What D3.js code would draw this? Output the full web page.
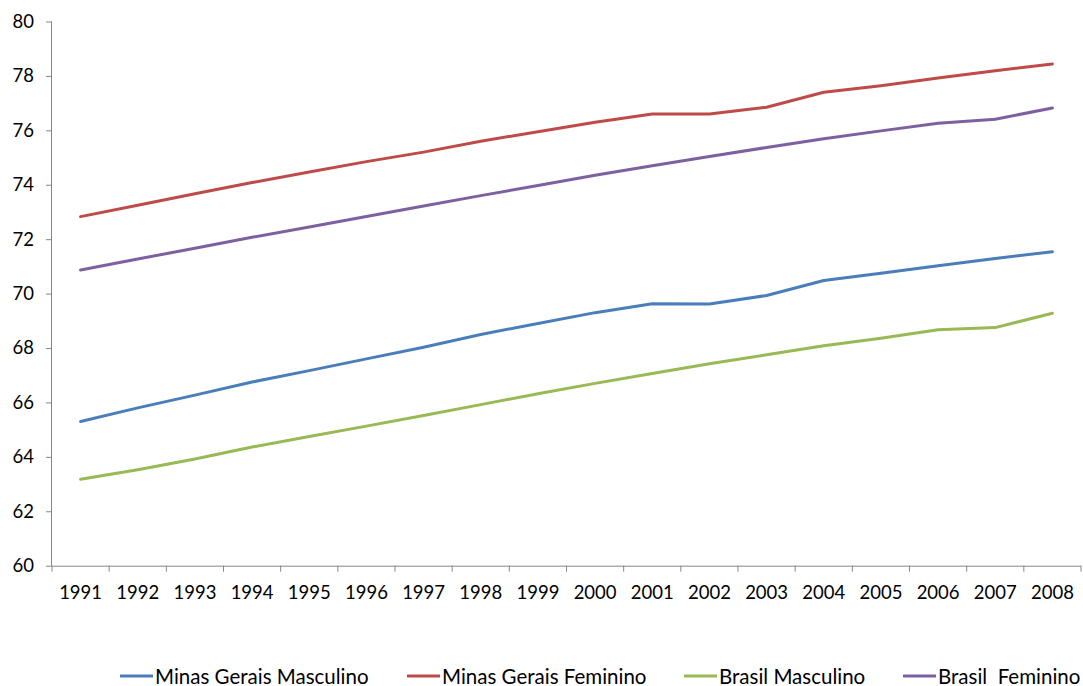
<!DOCTYPE html>
<html><head><meta charset="utf-8">
<script src="https://cdn.jsdelivr.net/npm/d3@7"></script>
<style>body{margin:0;background:#fff}svg{display:block}</style>
</head><body>
<svg id="c" width="1083" height="686"></svg>
<script>
const years = ["1991","1992","1993","1994","1995","1996","1997","1998","1999","2000","2001","2002","2003","2004","2005","2006","2007","2008"];
const seriesNames = ["Minas Gerais Masculino","Minas Gerais Feminino","Brasil Masculino","Brasil  Feminino"];
const mgMasc = [65.3,65.8,66.27,66.75,67.17,67.6,68.03,68.5,68.9,69.3,69.63,69.62,69.93,70.48,70.75,71.02,71.29,71.54];
const mgFem  = [72.83,73.25,73.67,74.08,74.47,74.85,75.2,75.6,75.95,76.3,76.6,76.6,76.85,77.4,77.64,77.92,78.19,78.44];
const brMasc = [63.18,63.53,63.92,64.36,64.75,65.13,65.52,65.92,66.32,66.7,67.06,67.42,67.75,68.08,68.36,68.67,68.75,69.28];
const brFem  = [70.87,71.27,71.67,72.07,72.45,72.83,73.22,73.6,73.97,74.35,74.7,75.04,75.37,75.69,75.98,76.26,76.41,76.82];
const yTicks = [60,62,64,66,68,70,72,74,76,78,80];
const colors = ["#4a7ebb","#be4b48","#98b954","#7d60a0"];
const data = [mgMasc, mgFem, brMasc, brFem];

const svg = d3.select("#c");
const L = 52, R = 1081, T = 21.5, B = 565.7;
const font = "Lato, 'Open Sans', sans-serif";
const x = d3.scaleBand().domain(years).range([L, R]).padding(0);
const y = d3.scaleLinear().domain([60, 80]).range([B, T]);

// Y axis
const ya = svg.append("g").attr("transform", `translate(${L},0)`)
  .call(d3.axisLeft(y).tickValues(yTicks).tickSize(6).tickPadding(12));
ya.select(".domain").attr("stroke", "#868686").attr("d", `M-0.5,${T}V${B}`);
ya.selectAll(".tick line").attr("stroke", "#868686");
ya.selectAll(".tick text").attr("font-family", font).attr("font-size", 18.5).attr("fill", "#000");

// X axis
const xa = svg.append("g").attr("transform", `translate(0,${B})`)
  .call(d3.axisBottom(x).tickSize(0).tickPadding(20));
xa.select(".domain").attr("stroke", "#868686").attr("d", `M${L},0.5H${R}`);
xa.selectAll(".tick text").attr("font-family", font).attr("font-size", 18.5).attr("fill", "#000");
// tick marks between categories
const bounds = years.map(d => x(d)).concat([R]);
svg.append("g").selectAll("line").data(bounds).join("line")
  .attr("x1", d => d).attr("x2", d => d).attr("y1", B).attr("y2", B + 6)
  .attr("stroke", "#868686");

// Lines
const line = d3.line().x((d, i) => x(years[i]) + x.bandwidth() / 2).y(d => y(d));
svg.append("g").selectAll("path").data(data).join("path")
  .attr("d", d => line(d)).attr("fill", "none")
  .attr("stroke", (d, i) => colors[i]).attr("stroke-width", 3)
  .attr("stroke-linejoin", "round").attr("stroke-linecap", "round");

// Legend
const legX = [120, 407, 684, 903];
const lg = svg.append("g").selectAll("g").data(seriesNames).join("g")
  .attr("transform", (d, i) => `translate(${legX[i]},676)`);
lg.append("line").attr("x1", 0).attr("x2", 33).attr("y1", 0).attr("y2", 0)
  .attr("stroke", (d, i) => colors[i]).attr("stroke-width", 3);
lg.append("text").attr("x", 35).attr("y", 7.5).attr("font-family", font).attr("font-size", 20.5)
  .attr("fill", "#000").attr("xml:space", "preserve").style("white-space", "pre").text(d => d);
</script>
</body></html>
